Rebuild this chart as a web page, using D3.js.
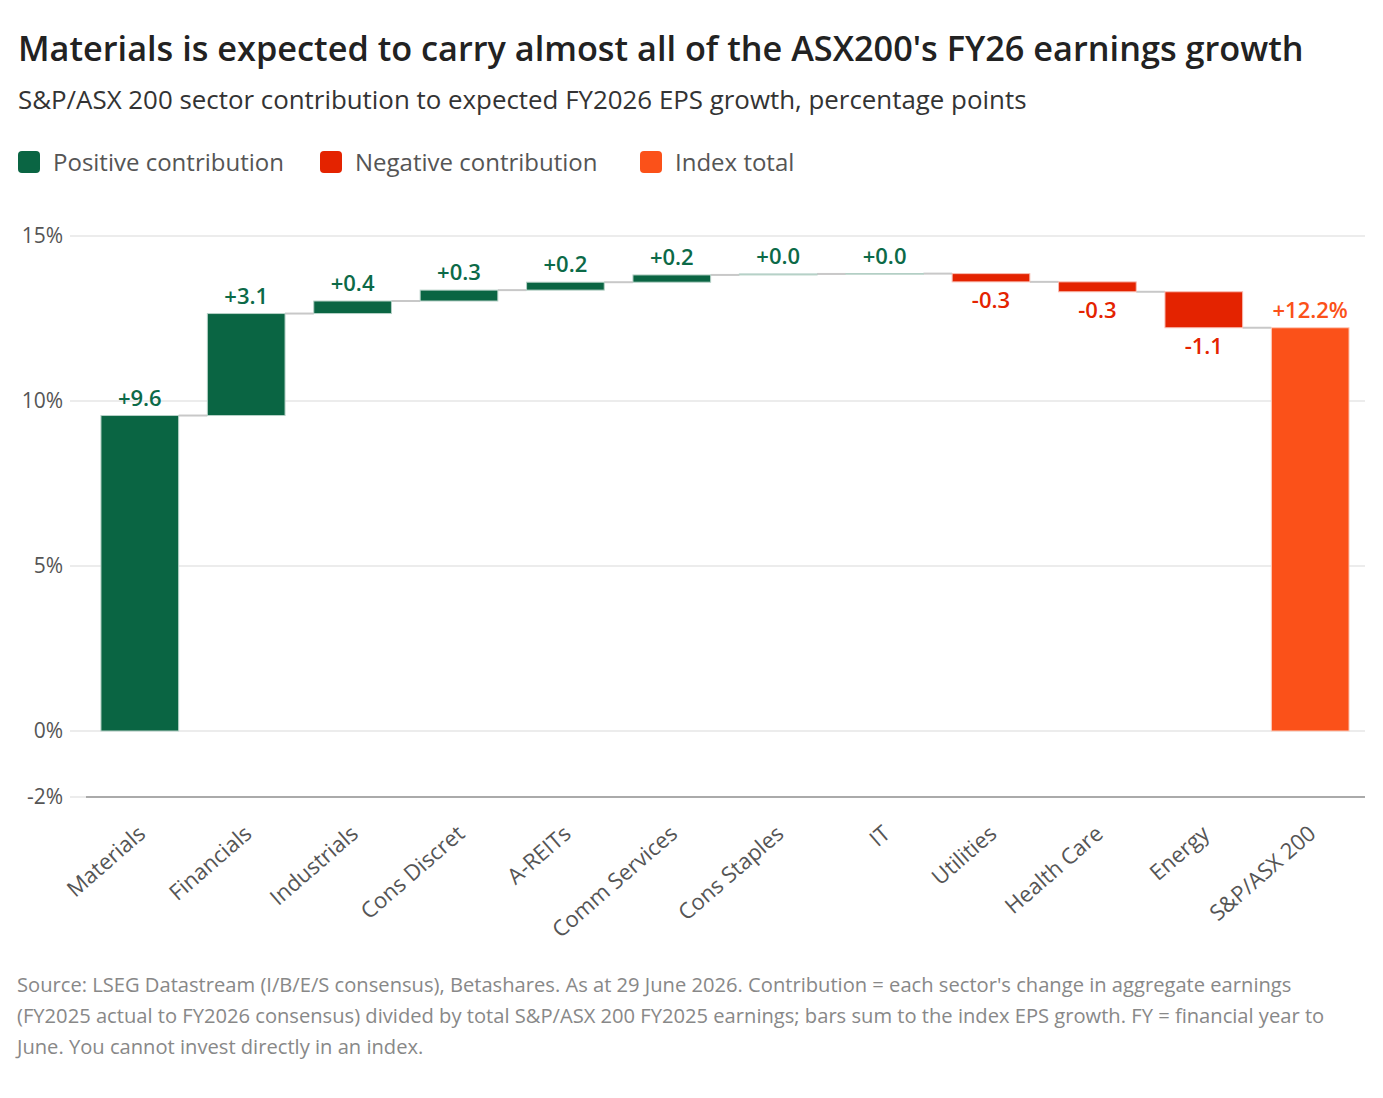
<!DOCTYPE html>
<html lang="en">
<head>
    <meta charset="UTF-8">
    <title>ASX200 FY26 earnings growth contribution</title>
    <script src="https://d3js.org/d3.v7.min.js"></script>
    <style>
        body { margin: 0; background: #fff; }
        text { font-family: "Open Sans", "Lato", sans-serif; }
    </style>
</head>
<body>
<script>
// sectors and their contribution (percentage points)
const sectors = ["Materials", "Financials", "Industrials", "Cons Discret", "A-REITs", "Comm Services",
    "Cons Staples", "IT", "Utilities", "Health Care", "Energy"];
const contributions = [9.56, 3.09, 0.38, 0.33, 0.24, 0.22, 0.03, 0.01, -0.25, -0.30, -1.09];
const totalLabel = "S&P/ASX 200";
const yTicks = [-2, 0, 5, 10, 15];

const colors = { pos: "#0a6543", neg: "#e42300", total: "#fb5119" };
const labelColors = { pos: "#0c6a48", neg: "#e42300", total: "#fb5119" };

const width = 1383, height = 1098;
const svg = d3.select("body").append("svg")
    .attr("width", width)
    .attr("height", height);

// shrink/grow a text's font so it spans the given width
function fitWidth(sel, target) {
    const node = sel.node();
    const size = parseFloat(sel.attr("font-size"));
    const w = node.getComputedTextLength();
    if (w > 0) sel.attr("font-size", (size * target / w).toFixed(2));
    return sel;
}

// build the waterfall steps
let running = 0;
const steps = sectors.map((name, i) => {
    const start = running;
    running += contributions[i];
    return { name, value: contributions[i], start, end: running, type: contributions[i] >= 0 ? "pos" : "neg" };
});
steps.push({ name: totalLabel, value: running, start: 0, end: running, type: "total" });

const x = d3.scaleBand()
    .domain(steps.map(d => d.name))
    .range([85, 1365])
    .paddingInner(0.27)
    .paddingOuter(0.15);

const y = d3.scaleLinear()
    .domain([-2, 15])
    .range([797, 236]);

const fmt = d3.formatLocale({ decimal: ".", thousands: ",", grouping: [3], currency: ["", ""], minus: "-" });
const f1 = fmt.format("+.1f");

// title block
fitWidth(svg.append("text")
    .attr("x", 18).attr("y", 61)
    .attr("font-size", 30).attr("font-weight", 600).attr("fill", "#222")
    .text("Materials is expected to carry almost all of the ASX200's FY26 earnings growth"), 1286);

fitWidth(svg.append("text")
    .attr("x", 18).attr("y", 109)
    .attr("font-size", 24).attr("fill", "#333")
    .text("S&P/ASX 200 sector contribution to expected FY2026 EPS growth, percentage points"), 1009);

// legend
const legendItems = [
    { label: "Positive contribution", type: "pos", x: 18 },
    { label: "Negative contribution", type: "neg", x: 320 },
    { label: "Index total", type: "total", x: 640 }
];
const legend = svg.append("g").selectAll("g")
    .data(legendItems)
    .enter().append("g")
    .attr("transform", d => `translate(${d.x},151)`);
legend.append("rect")
    .attr("width", 22).attr("height", 22).attr("rx", 4)
    .attr("fill", d => colors[d.type]);
legend.append("text")
    .attr("x", 35).attr("y", 20)
    .attr("font-size", 24).attr("fill", "#555")
    .text(d => d.label);

// gridlines
svg.append("g").selectAll("line")
    .data(yTicks.filter(t => t !== -2))
    .enter().append("line")
    .attr("x1", 70).attr("x2", 1365)
    .attr("y1", d => y(d)).attr("y2", d => y(d))
    .attr("stroke", "#e6e6e6").attr("stroke-width", 1.5);

// bottom axis line at -2%
svg.append("line")
    .attr("x1", 70).attr("x2", 86)
    .attr("y1", y(-2)).attr("y2", y(-2))
    .attr("stroke", "#e6e6e6").attr("stroke-width", 1.5);
svg.append("line")
    .attr("x1", 86).attr("x2", 1365)
    .attr("y1", y(-2)).attr("y2", y(-2))
    .attr("stroke", "#aaa").attr("stroke-width", 2);

// y tick labels
svg.append("g").selectAll("text")
    .data(yTicks)
    .enter().append("text")
    .attr("x", 63)
    .attr("y", d => y(d))
    .attr("dy", "0.35em")
    .attr("text-anchor", "end")
    .attr("font-size", 21).attr("fill", "#555")
    .text(d => d + "%");

// connectors between bars
svg.append("g").selectAll("line")
    .data(steps.slice(0, -1))
    .enter().append("line")
    .attr("x1", d => x(d.name) + x.bandwidth())
    .attr("x2", (d, i) => x(steps[i + 1].name))
    .attr("y1", d => y(d.end))
    .attr("y2", d => y(d.end))
    .attr("stroke", "#c8c8c8").attr("stroke-width", 2);

// bars
svg.append("g").selectAll("rect")
    .data(steps)
    .enter().append("rect")
    .attr("x", d => x(d.name))
    .attr("width", x.bandwidth())
    .attr("y", d => y(Math.max(d.start, d.end)))
    .attr("height", d => Math.max(0.5, Math.abs(y(d.start) - y(d.end))))
    .attr("fill", d => colors[d.type])
    .attr("stroke", d => d3.interpolateRgb(colors[d.type], "#fff")(0.7))
    .attr("stroke-width", 1);

// value labels
svg.append("g").selectAll("text")
    .data(steps)
    .enter().append("text")
    .attr("x", d => x(d.name) + x.bandwidth() / 2)
    .attr("y", d => d.type === "neg" ? y(d.end) + 26 : y(Math.max(d.start, d.end)) - 10)
    .attr("text-anchor", "middle")
    .attr("font-size", 22).attr("font-weight", 600)
    .attr("fill", d => labelColors[d.type])
    .text(d => d.type === "total" ? f1(d.value) + "%" : f1(d.value));

// category labels
svg.append("g").selectAll("text")
    .data(steps)
    .enter().append("text")
    .attr("transform", d => `translate(${x(d.name) + x.bandwidth() / 2 + 2},830) rotate(-41)`)
    .attr("text-anchor", "end")
    .attr("dy", "0.35em")
    .attr("font-size", 22).attr("fill", "#555")
    .text(d => d.name);

// source note
const notes = [
    "Source: LSEG Datastream (I/B/E/S consensus), Betashares. As at 29 June 2026. Contribution = each sector's change in aggregate earnings",
    "(FY2025 actual to FY2026 consensus) divided by total S&P/ASX 200 FY2025 earnings; bars sum to the index EPS growth. FY = financial year to",
    "June. You cannot invest directly in an index."
];
const noteText = svg.append("g").selectAll("text")
    .data(notes)
    .enter().append("text")
    .attr("x", 17)
    .attr("y", (d, i) => 992 + i * 31)
    .attr("font-size", 19).attr("fill", "#888")
    .text(d => d);
// match the reference line length using the first line, then share the size
fitWidth(d3.select(noteText.nodes()[0]), 1275);
noteText.attr("font-size", d3.select(noteText.nodes()[0]).attr("font-size"));
</script>
</body>
</html>
